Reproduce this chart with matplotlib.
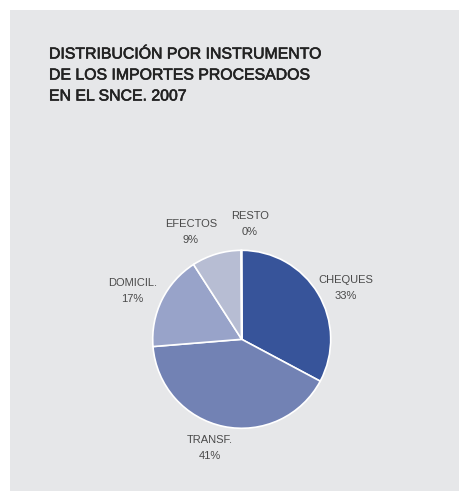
import matplotlib
matplotlib.use("Agg")
import matplotlib.pyplot as plt
import matplotlib.patheffects as pe
from matplotlib.patches import Rectangle

# data
categories = ["CHEQUES", "TRANSF.", "DOMICIL.", "EFECTOS", "RESTO"]
shares = [32.8, 40.9, 17.2, 9.0, 0.1]
colors = ["#37549a", "#7282b4", "#98a3c9", "#b7bdd3", "#d5d8e3"]
# label anchor points, in pie-radius units
label_x = [1.17, -0.36, -1.23, -0.57, 0.09]
label_y = [0.58, -1.22, 0.54, 1.21, 1.30]

title = "DISTRIBUCIÓN POR INSTRUMENTO\nDE LOS IMPORTES PROCESADOS\nEN EL SNCE. 2007"

plt.rcParams["font.family"] = ["Liberation Sans", "DejaVu Sans"]

W, H = 460, 491
fig = plt.figure(figsize=(W / 100, H / 100), dpi=100)
fig.patch.set_facecolor("white")
fig.patches.append(Rectangle((10 / W, 0), 1, 1 - 10 / H,
                             transform=fig.transFigure, facecolor="#e6e7e9",
                             edgecolor="none", zorder=-1))

# regular weight with a thin stroke, to get the medium look of the original
fig.text(49 / W, 1 - 46.5 / H, title, ha="left", va="top", fontsize=11.4,
         color="#222222", linespacing=1.5,
         path_effects=[pe.withStroke(linewidth=0.45, foreground="#222222")])

cx, cy, r = 241.7, 339.3, 89.0
ax = fig.add_axes([(cx - r) / W, (H - cy - r) / H, 2 * r / W, 2 * r / H])
ax.set_zorder(2)
ax.pie(shares, colors=colors, startangle=90, counterclock=False, radius=1.0,
       wedgeprops=dict(edgecolor="white", linewidth=1.2))
ax.set_xlim(-1, 1)
ax.set_ylim(-1, 1)
ax.set_aspect("auto")
ax.axis("off")

for name, share, x, y in zip(categories, shares, label_x, label_y):
    ax.text(x, y, f"{name}\n{share:.0f}%", ha="center", va="center",
            fontsize=8, color="#4a4a4a", linespacing=1.75, clip_on=False)

fig.savefig("out.png", dpi=100)
